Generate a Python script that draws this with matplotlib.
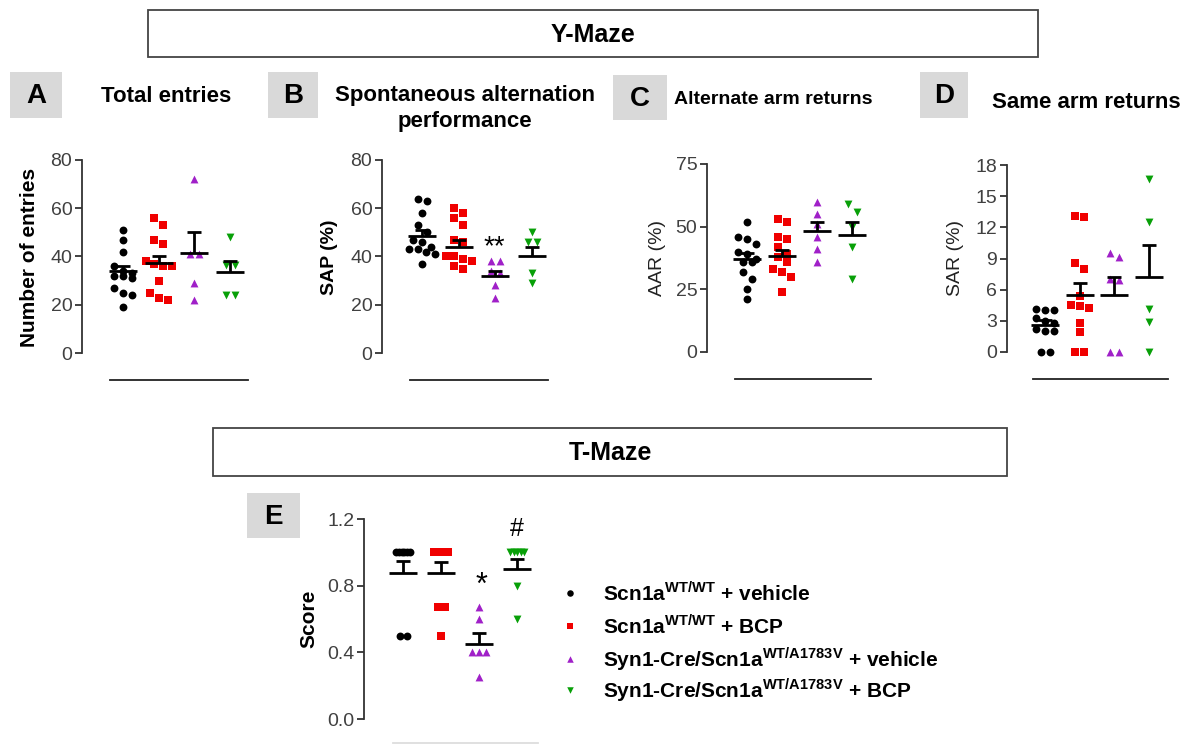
import numpy as np
import matplotlib
matplotlib.use('Agg')
import matplotlib.pyplot as plt
import matplotlib.transforms as mtransforms
from matplotlib.patches import Rectangle

plt.rcParams['font.family'] = ['Liberation Sans', 'DejaVu Sans']
plt.rcParams['mathtext.fontset'] = 'custom'
plt.rcParams['mathtext.rm'] = 'Liberation Sans'
plt.rcParams['mathtext.bf'] = 'Liberation Sans:bold'

# groups
groups = [r'Scn1a$^{\mathbf{WT/WT}}$ + vehicle',
          r'Scn1a$^{\mathbf{WT/WT}}$ + BCP',
          r'Syn1-Cre/Scn1a$^{\mathbf{WT/A1783V}}$ + vehicle',
          r'Syn1-Cre/Scn1a$^{\mathbf{WT/A1783V}}$ + BCP']
colors = ['#000000', '#f00000', '#a020c8', '#08a008']
markers = ['o', 's', '^', 'v']

# A - total entries
entries_wt_veh = [51, 47, 42, 36, 34, 33, 32, 32, 31, 27, 25, 24, 19]
entries_wt_bcp = [56, 53, 47, 45, 38, 37, 36, 36, 30, 25, 23, 22]
entries_mut_veh = [72, 41, 41, 29, 22]
entries_mut_bcp = [48, 36.5, 36.5, 24, 24]
entries_mean = [33.8, 37.2, 41.4, 33.4]
entries_sem = [2.3, 3.2, 8.8, 4.7]

# B - spontaneous alternation performance
sap_wt_veh = [64, 63, 58, 53, 50, 47, 46, 44, 43, 43, 42, 41, 37]
sap_wt_bcp = [60, 58, 56, 53, 47, 46, 40, 40, 39, 38, 36, 35]
sap_mut_veh = [38, 38, 34, 33, 28, 23]
sap_mut_bcp = [50, 46, 46, 33, 29]
sap_mean = [48.6, 44.1, 32.0, 40.3]
sap_sem = [2.4, 2.8, 2.1, 3.6]

# C - alternate arm returns
aar_wt_veh = [52, 46, 45, 43, 40, 39, 37, 36, 36, 32, 29, 25, 21]
aar_wt_bcp = [53, 52, 46, 45, 42, 39, 38, 36, 33, 32, 30, 24]
aar_mut_veh = [60, 55, 51, 46, 41, 36]
aar_mut_bcp = [59, 56, 50, 42, 29]
aar_mean = [37.3, 38.2, 48.4, 46.6]
aar_sem = [2.0, 2.4, 3.6, 5.4]

# D - same arm returns
sar_wt_veh = [4.0, 4.1, 4.0, 3.3, 3.0, 2.8, 2.2, 2.0, 2.0, 0, 0]
sar_wt_bcp = [13.1, 13.0, 8.6, 8.0, 5.4, 4.5, 4.4, 4.2, 2.8, 1.9, 0, 0]
sar_mut_veh = [9.5, 9.1, 7.0, 6.9, 0, 0]
sar_mut_bcp = [16.7, 12.5, 4.1, 2.9, 0]
sar_mean = [2.63, 5.45, 5.45, 7.2]
sar_sem = [0.47, 1.2, 1.75, 3.1]

# E - T-maze score
score_wt_veh = [1, 1, 1, 1, 1, 1, 0.5, 0.5]
score_wt_bcp = [1, 1, 1, 1, 1, 1, 0.67, 0.67, 0.5]
score_mut_veh = [0.67, 0.6, 0.4, 0.4, 0.4, 0.25]
score_mut_bcp = [1, 1, 1, 1, 1, 0.8, 0.6]
score_mean = [0.876, 0.876, 0.452, 0.90]
score_sem = [0.07, 0.064, 0.064, 0.06]

W, H = 1189, 746
fig = plt.figure(figsize=(W / 100, H / 100), dpi=100)

# overlay in pixel coords for boxes / titles / legend
ov = fig.add_axes([0, 0, 1, 1])
ov.set_xlim(0, W)
ov.set_ylim(H, 0)
ov.axis('off')


def swarm(vals, thr, step, maxw):
    vals = np.asarray(vals, float)
    order = np.argsort(-vals, kind='stable')
    off = np.zeros(len(vals))
    i = 0
    while i < len(order):
        j = i
        while j + 1 < len(order) and vals[order[i]] - vals[order[j + 1]] <= thr:
            j += 1
        k = j - i + 1
        if k > 1:
            sp = min(step, maxw / (k - 1))
            for n, idx in enumerate(order[i:j + 1]):
                off[idx] = (n - (k - 1) / 2) * sp
        i = j + 1
    return off


def panel(axis_x, top, bottom, cols, line, ymax, ticks, data, means, sems,
          fmt='%g', maxw=26, step=9, line_color='#222222'):
    ax = fig.add_axes([axis_x / W, 1 - bottom / H, (line[1] - axis_x) / W, (bottom - top) / H])
    unit = (cols[1] - cols[0]) / 3
    ax.set_xlim((axis_x - cols[0]) / unit, (line[1] - cols[0]) / unit)
    ax.set_ylim(0, ymax)
    ppu = (bottom - top) / ymax
    for g, vals in enumerate(data):
        off = swarm(vals, 8 / ppu, step, maxw) / unit
        ax.scatter(g + off, vals, marker=markers[g], s=32, color=colors[g],
                   linewidths=0, clip_on=False, zorder=3)
        m, s = means[g], sems[g]
        kw = dict(color='k', lw=2, solid_capstyle='butt', zorder=4, clip_on=False)
        ax.plot([g - 14 / unit, g + 14 / unit], [m, m], **kw)
        ax.plot([g, g], [m, m + s], **kw)
        ax.plot([g - 7 / unit, g + 7 / unit], [m + s, m + s], **kw)
    trans = mtransforms.blended_transform_factory(ax.transData, ax.transAxes)
    ly = (bottom - line[2]) / (bottom - top)
    ax.plot([(line[0] - cols[0]) / unit, (line[1] - cols[0]) / unit], [ly, ly],
            transform=trans, color=line_color, lw=1.3, clip_on=False)
    for sp in ['top', 'right', 'bottom']:
        ax.spines[sp].set_visible(False)
    ax.spines['left'].set_color('#333333')
    ax.spines['left'].set_linewidth(1.3)
    ax.set_xticks([])
    ax.set_yticks(ticks)
    ax.set_yticklabels([fmt % t for t in ticks])
    ax.tick_params(axis='y', direction='out', length=5, width=1.3, color='#333333',
                   labelsize=14, labelcolor='#404040', pad=2)
    ax.patch.set_visible(False)
    return ax


panel(82, 160, 353, (123, 230), (110, 248, 380), 80, [0, 20, 40, 60, 80],
      [entries_wt_veh, entries_wt_bcp, entries_mut_veh, entries_mut_bcp], entries_mean, entries_sem)
panel(382, 160, 353, (422, 532), (410, 548, 380), 80, [0, 20, 40, 60, 80],
      [sap_wt_veh, sap_wt_bcp, sap_mut_veh, sap_mut_bcp], sap_mean, sap_sem)
panel(707, 164, 352, (747, 852), (735, 871, 379), 75, [0, 25, 50, 75],
      [aar_wt_veh, aar_wt_bcp, aar_mut_veh, aar_mut_bcp], aar_mean, aar_sem)
panel(1007, 165, 352, (1045, 1149), (1033, 1168, 379), 18, [0, 3, 6, 9, 12, 15, 18],
      [sar_wt_veh, sar_wt_bcp, sar_mut_veh, sar_mut_bcp], sar_mean, sar_sem)
panel(364, 519, 719, (403, 517), (393, 538, 743), 1.2, [0.0, 0.4, 0.8, 1.2],
      [score_wt_veh, score_wt_bcp, score_mut_veh, score_mut_bcp], score_mean, score_sem,
      fmt='%.1f', maxw=14, step=7, line_color='#dddddd')

# significance marks
ov.text(494, 247, '**', fontsize=20, ha='center', va='center')
ov.text(481, 586, '*', fontsize=22, ha='center', va='center')
ov.text(517, 529, '#', fontsize=18, ha='center', va='center')

# y labels
ov.text(30, 257, 'Number of entries', rotation=90, fontsize=15, fontweight='bold', ha='center', va='center')
ov.text(330, 257, 'SAP (%)', rotation=90, fontsize=14, fontweight='bold', ha='center', va='center')
ov.text(658, 258, 'AAR (%)', rotation=90, fontsize=14, color='#222222', ha='center', va='center')
ov.text(955, 258, 'SAR (%)', rotation=90, fontsize=14, color='#222222', ha='center', va='center')
ov.text(309, 619, 'Score', rotation=90, fontsize=15, fontweight='bold', ha='center', va='center')

# section boxes
for (x0, y0, x1, y1, txt) in [(148, 10, 1038, 57, 'Y-Maze'), (213, 428, 1007, 476, 'T-Maze')]:
    ov.add_patch(Rectangle((x0, y0), x1 - x0, y1 - y0, fill=False, edgecolor='#444444', lw=1.3))
    ov.text((x0 + x1) / 2, (y0 + y1) / 2 + 1, txt, fontsize=18, fontweight='bold', ha='center', va='center')

# panel letters
for (x0, y0, x1, y1, letter) in [(10, 72, 62, 118, 'A'), (268, 72, 318, 118, 'B'),
                                 (613, 75, 667, 120, 'C'), (920, 72, 968, 118, 'D'),
                                 (247, 493, 300, 538, 'E')]:
    ov.add_patch(Rectangle((x0, y0), x1 - x0, y1 - y0, facecolor='#d9d9d9', edgecolor='none'))
    ov.text((x0 + x1) / 2, (y0 + y1) / 2 + 1, letter, fontsize=20, fontweight='bold', ha='center', va='center')

# panel titles
ov.text(166, 96, 'Total entries', fontsize=16, fontweight='bold', ha='center', va='center')
ov.text(465, 96, 'Spontaneous alternation', fontsize=16, fontweight='bold', ha='center', va='center')
ov.text(465, 121, 'performance', fontsize=16, fontweight='bold', ha='center', va='center')
ov.text(674, 100, 'Alternate arm returns', fontsize=14, fontweight='bold', ha='left', va='center')
ov.text(1086, 102, 'Same arm returns', fontsize=16, fontweight='bold', ha='center', va='center')

# legend
legend_y = [593, 626, 659, 690]
for g in range(4):
    ov.scatter([570], [legend_y[g]], marker=markers[g], s=22, color=colors[g], linewidths=0)
    ov.text(603, legend_y[g], groups[g], fontsize=15, fontweight='bold', ha='left', va='center')

fig.savefig('out.png', dpi=100)
